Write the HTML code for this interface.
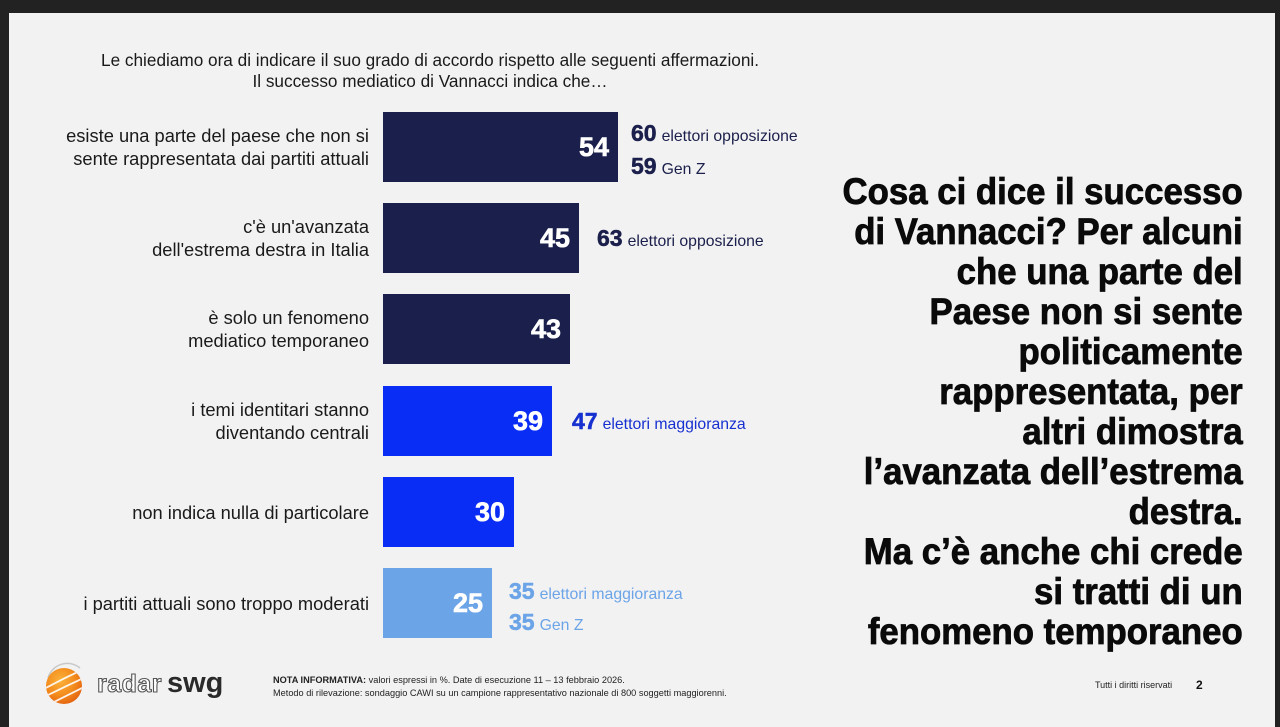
<!DOCTYPE html>
<html>
<head>
<meta charset="utf-8">
<style>
  html,body{margin:0;padding:0;}
  body{width:1280px;height:727px;background:#222222;position:relative;overflow:hidden;font-family:"Liberation Sans",Arial,sans-serif;}
  .slide{position:absolute;left:9px;top:13px;width:1266px;height:714px;background:#f2f2f2;}
  .abs{position:absolute;}
  .hdr{left:30px;top:50px;width:800px;text-align:center;font-size:17.2px;line-height:21px;color:#1a1a1a;}
  .lab{left:0;width:369px;height:70px;display:flex;align-items:center;justify-content:flex-end;text-align:right;font-size:18.3px;line-height:23px;color:#1a1a1a;}
  .bar{left:383px;height:70px;display:flex;align-items:center;justify-content:flex-end;box-sizing:border-box;padding-right:9px;color:#fff;font-weight:bold;font-size:27px;-webkit-text-stroke:0.6px #fff;}
  .navy{background:#1b1f4b;}
  .blue{background:#0a2df5;}
  .lblue{background:#6ca4e8;}
  .ann{height:26px;line-height:26px;white-space:nowrap;font-size:15.8px;}
  .ann b{font-size:23px;margin-right:5px;-webkit-text-stroke:0.5px currentColor;}
  .c-navy{color:#1b1f4b;}
  .c-blue{color:#1730d0;}
  .c-lblue{color:#6ca4e8;}
  .title{right:37px;top:172px;text-align:right;font-weight:bold;font-size:37px;line-height:40px;color:#0a0a0a;transform:scaleX(0.94);transform-origin:right center;white-space:nowrap;-webkit-text-stroke:0.8px #0a0a0a;}
  .foot{left:273px;top:674px;font-size:9.2px;line-height:13px;color:#222;white-space:nowrap;}
</style>
</head>
<body>
<div class="slide"></div>

<div class="abs hdr">Le chiediamo ora di indicare il suo grado di accordo rispetto alle seguenti affermazioni.<br>Il successo mediatico di Vannacci indica che…</div>

<!-- labels -->
<div class="abs lab" style="top:112px;">esiste una parte del paese che non si<br>sente rappresentata dai partiti attuali</div>
<div class="abs lab" style="top:203px;">c'è un'avanzata<br>dell'estrema destra in Italia</div>
<div class="abs lab" style="top:294px;">è solo un fenomeno<br>mediatico temporaneo</div>
<div class="abs lab" style="top:386px;">i temi identitari stanno<br>diventando centrali</div>
<div class="abs lab" style="top:477px;">non indica nulla di particolare</div>
<div class="abs lab" style="top:568px;">i partiti attuali sono troppo moderati</div>

<!-- bars -->
<div class="abs bar navy" style="top:112px;width:235px;">54</div>
<div class="abs bar navy" style="top:203px;width:196px;">45</div>
<div class="abs bar navy" style="top:294px;width:187px;">43</div>
<div class="abs bar blue" style="top:386px;width:169px;">39</div>
<div class="abs bar blue" style="top:477px;width:131px;">30</div>
<div class="abs bar lblue" style="top:568px;width:109px;">25</div>

<!-- annotations -->
<div class="abs ann c-navy" style="left:631px;top:120px;"><b>60</b>elettori opposizione</div>
<div class="abs ann c-navy" style="left:631px;top:153px;"><b>59</b>Gen Z</div>
<div class="abs ann c-navy" style="left:597px;top:225px;"><b>63</b>elettori opposizione</div>
<div class="abs ann c-blue" style="left:572px;top:408px;"><b>47</b>elettori maggioranza</div>
<div class="abs ann c-lblue" style="left:509px;top:578px;"><b>35</b>elettori maggioranza</div>
<div class="abs ann c-lblue" style="left:509px;top:609px;"><b>35</b>Gen Z</div>

<!-- right title -->
<div class="abs title">Cosa ci dice il successo<br>di Vannacci? Per alcuni<br>che una parte del<br>Paese non si sente<br>politicamente<br>rappresentata, per<br>altri dimostra<br>l’avanzata dell’estrema<br>destra.<br>Ma c’è anche chi crede<br>si tratti di un<br>fenomeno temporaneo</div>

<!-- logo -->
<svg class="abs" style="left:40px;top:660px;" width="200" height="52" viewBox="0 0 200 52">
  <defs>
    <radialGradient id="og" cx="0.4" cy="0.35" r="0.7">
      <stop offset="0" stop-color="#fbb23a"/>
      <stop offset="0.6" stop-color="#f38a1c"/>
      <stop offset="1" stop-color="#e2610e"/>
    </radialGradient>
    <clipPath id="cc"><circle cx="24" cy="26" r="18"/></clipPath>
  </defs>
  <path d="M8 18 A20 20 0 0 1 40 8" fill="none" stroke="#c8c8c8" stroke-width="1.5"/>
  <circle cx="24" cy="26" r="18" fill="url(#og)"/>
  <g clip-path="url(#cc)" fill="none" stroke="#ffffff" stroke-width="1.8" opacity="0.9">
    <path d="M2 30 Q24 18 46 8"/>
    <path d="M2 38 Q26 26 48 16"/>
    <path d="M6 46 Q30 34 50 24"/>
  </g>
  <text x="57" y="32" font-family="Liberation Sans, Arial, sans-serif" font-weight="bold" font-size="25" fill="#ffffff" stroke="#555" stroke-width="1.1" letter-spacing="0.5">radar</text>
  <text x="127" y="32" font-family="Liberation Sans, Arial, sans-serif" font-weight="bold" font-size="29" fill="#2a2a2a">swg</text>
</svg>

<div class="abs foot"><b>NOTA INFORMATIVA:</b> valori espressi in %. Date di esecuzione 11 – 13 febbraio 2026.<br>Metodo di rilevazione: sondaggio CAWI su un campione rappresentativo nazionale di 800 soggetti maggiorenni.</div>

<div class="abs" style="left:1095px;top:679px;font-size:9px;line-height:12px;color:#222;white-space:nowrap;">Tutti i diritti riservati</div>
<div class="abs" style="left:1196px;top:677px;font-size:12px;line-height:16px;font-weight:bold;color:#111;">2</div>
</body>
</html>
